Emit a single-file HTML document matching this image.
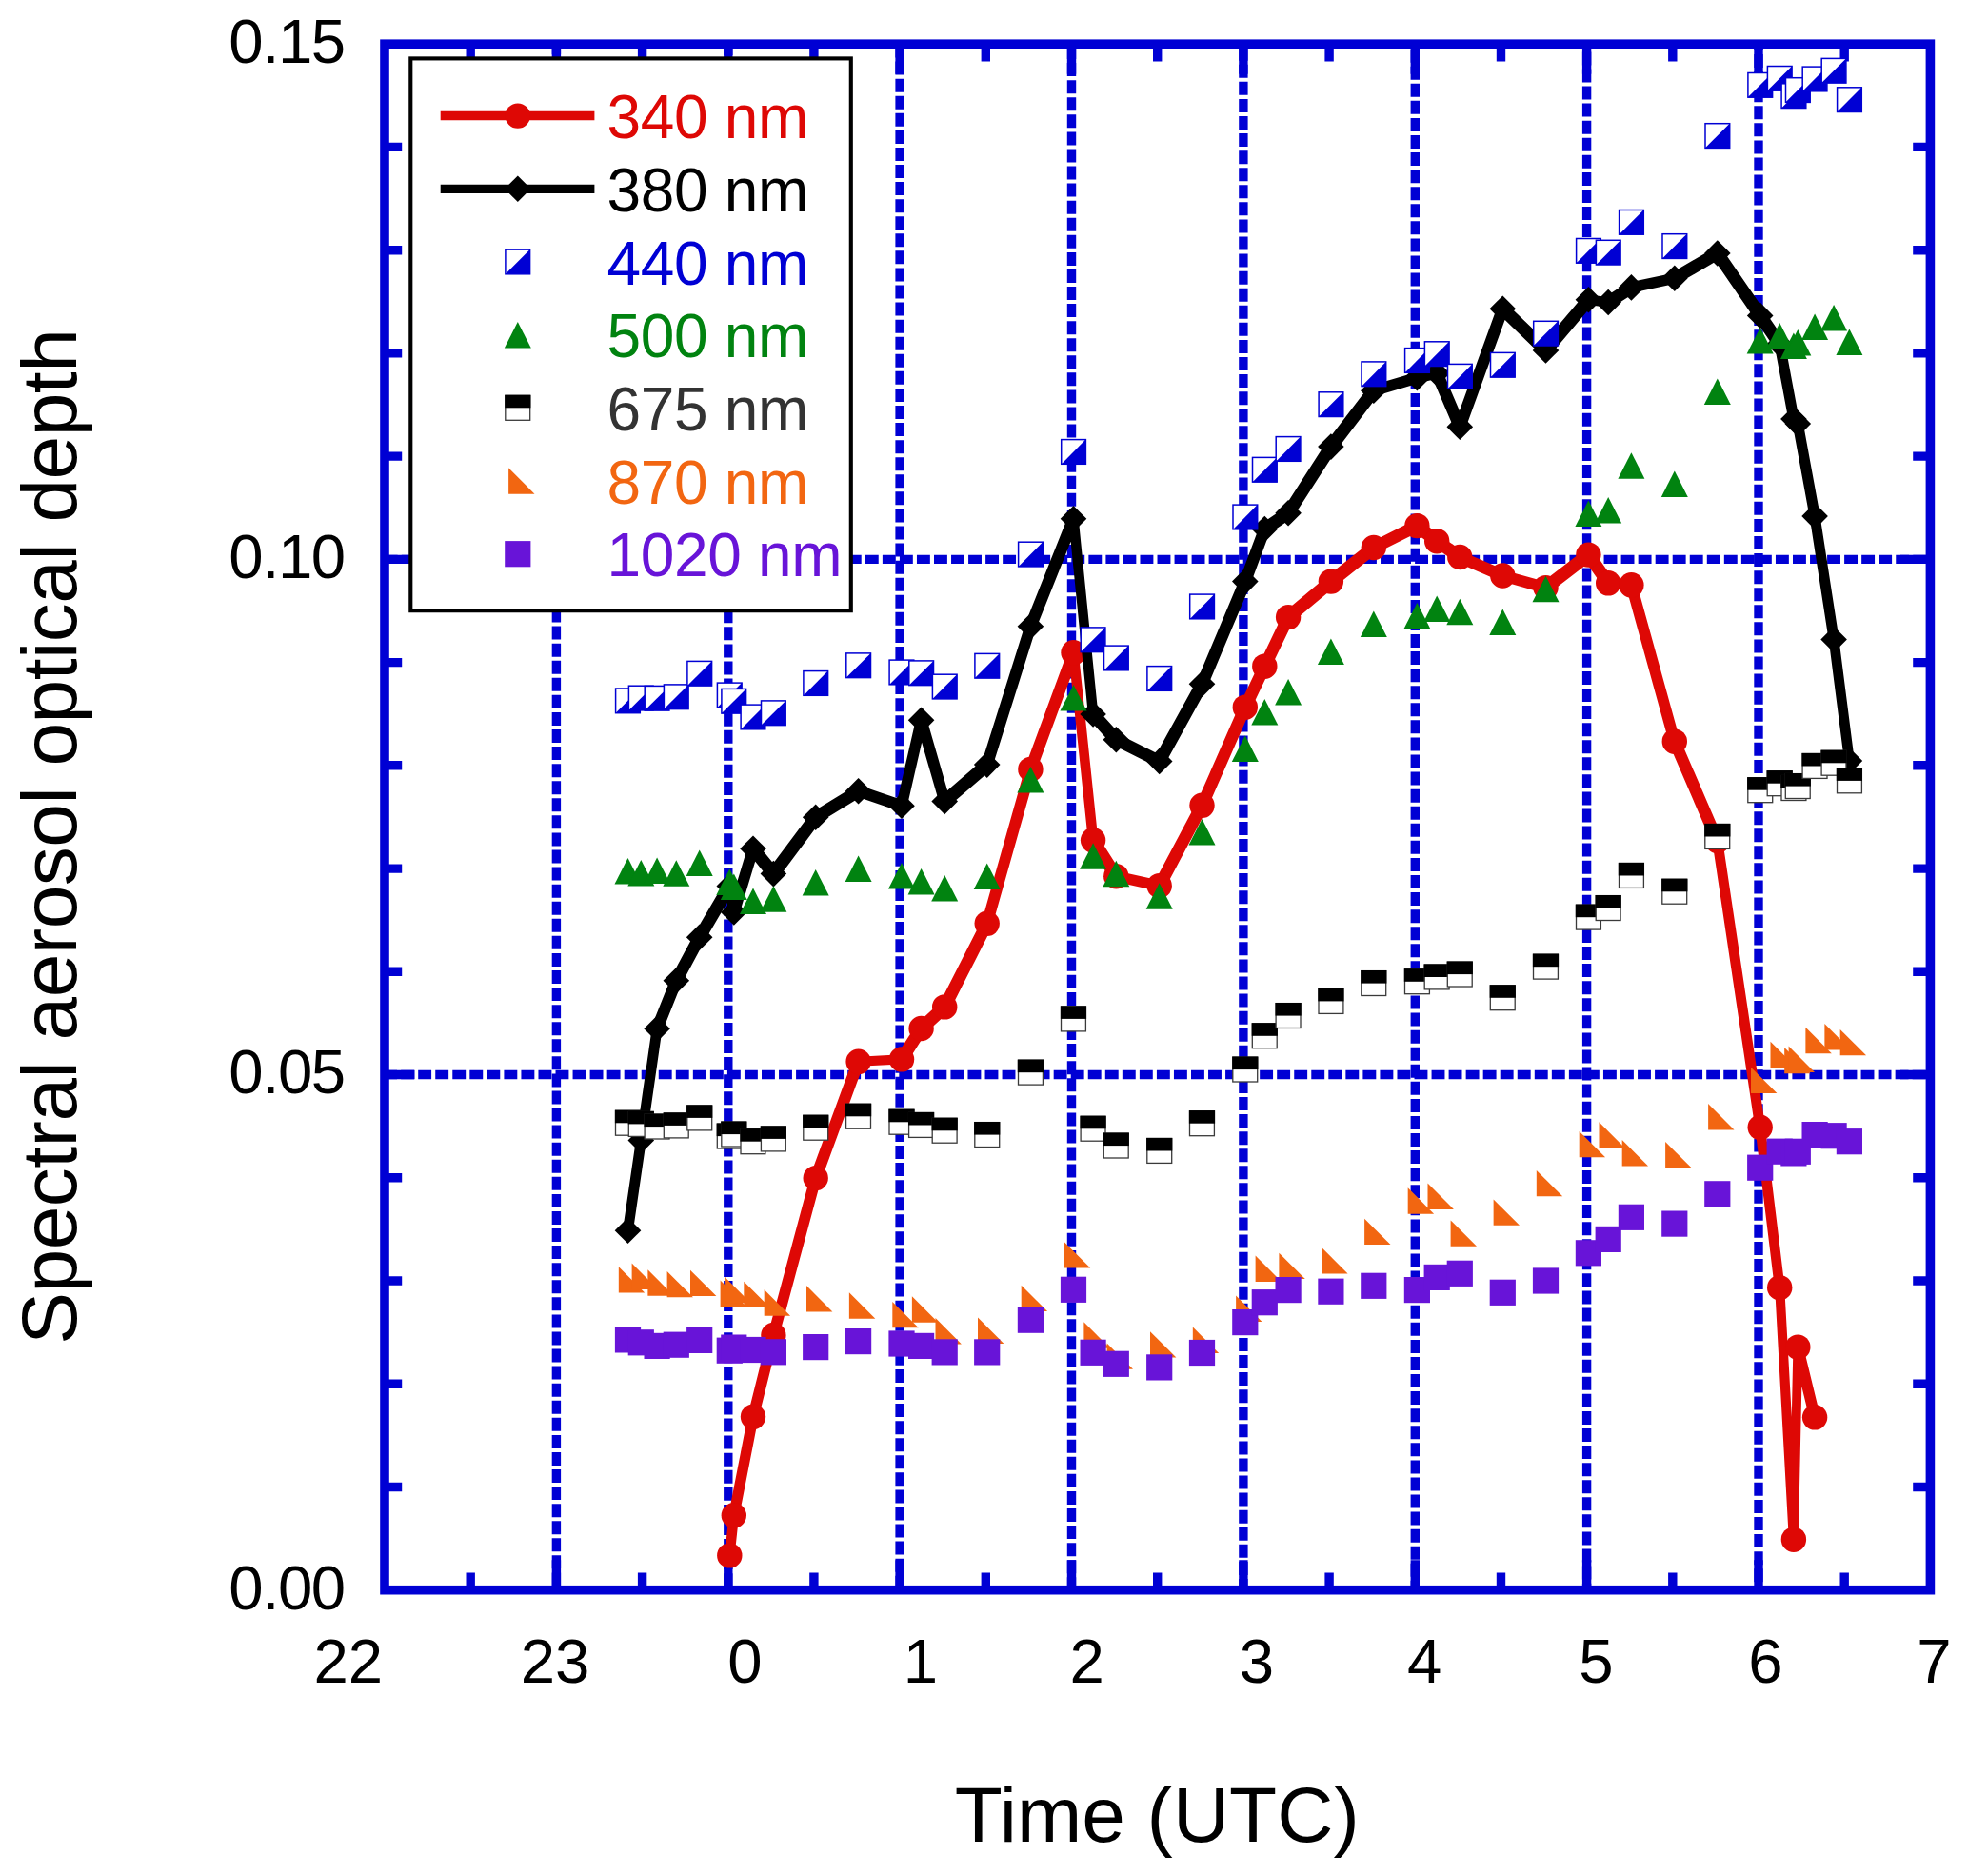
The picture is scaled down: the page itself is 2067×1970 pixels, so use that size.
<!DOCTYPE html><html><head><meta charset="utf-8"><title>Spectral aerosol optical depth</title><style>html,body{margin:0;padding:0;background:#fff;overflow:hidden;}svg{display:block;}text{font-family:"Liberation Sans",Arial,sans-serif;}</style></head><body><svg width="2067" height="1970" viewBox="0 0 2067 1970"><rect width="2067" height="1970" fill="#fff"/><line x1="584.4" y1="1669.7" x2="584.4" y2="46.2" stroke="#0000D4" stroke-width="9.4" stroke-dasharray="14.0 4.07" stroke-dashoffset="13.81"/><line x1="764.8" y1="1669.7" x2="764.8" y2="46.2" stroke="#0000D4" stroke-width="9.4" stroke-dasharray="14.0 4.07" stroke-dashoffset="14.53"/><line x1="945.1" y1="1669.7" x2="945.1" y2="46.2" stroke="#0000D4" stroke-width="9.4" stroke-dasharray="14.0 4.07" stroke-dashoffset="17.13"/><line x1="1125.5" y1="1669.7" x2="1125.5" y2="46.2" stroke="#0000D4" stroke-width="9.4" stroke-dasharray="14.0 4.07" stroke-dashoffset="0.57"/><line x1="1305.9" y1="1669.7" x2="1305.9" y2="46.2" stroke="#0000D4" stroke-width="9.4" stroke-dasharray="14.0 4.07" stroke-dashoffset="2.26"/><line x1="1486.3" y1="1669.7" x2="1486.3" y2="46.2" stroke="#0000D4" stroke-width="9.4" stroke-dasharray="14.0 4.07" stroke-dashoffset="4.17"/><line x1="1666.6" y1="1669.7" x2="1666.6" y2="46.2" stroke="#0000D4" stroke-width="9.4" stroke-dasharray="14.0 4.07" stroke-dashoffset="6.93"/><line x1="1847" y1="1669.7" x2="1847" y2="46.2" stroke="#0000D4" stroke-width="9.4" stroke-dasharray="14.0 4.07" stroke-dashoffset="9.58"/><line x1="404" y1="1128.5" x2="2027.4" y2="1128.5" stroke="#0000D4" stroke-width="9.4" stroke-dasharray="13.9 4.14" stroke-dashoffset="0.88"/><line x1="404" y1="587.4" x2="2027.4" y2="587.4" stroke="#0000D4" stroke-width="9.4" stroke-dasharray="13.9 4.14" stroke-dashoffset="0.28"/><path d="M494.2 1669.7V1651.5M494.2 46.2V64.4M584.4 1669.7V1638.2M584.4 46.2V77.7M674.6 1669.7V1651.5M674.6 46.2V64.4M764.8 1669.7V1638.2M764.8 46.2V77.7M854.9 1669.7V1651.5M854.9 46.2V64.4M945.1 1669.7V1638.2M945.1 46.2V77.7M1035.3 1669.7V1651.5M1035.3 46.2V64.4M1125.5 1669.7V1638.2M1125.5 46.2V77.7M1215.7 1669.7V1651.5M1215.7 46.2V64.4M1305.9 1669.7V1638.2M1305.9 46.2V77.7M1396.1 1669.7V1651.5M1396.1 46.2V64.4M1486.3 1669.7V1638.2M1486.3 46.2V77.7M1576.5 1669.7V1651.5M1576.5 46.2V64.4M1666.6 1669.7V1638.2M1666.6 46.2V77.7M1756.8 1669.7V1651.5M1756.8 46.2V64.4M1847 1669.7V1638.2M1847 46.2V77.7M1937.2 1669.7V1651.5M1937.2 46.2V64.4M404 1561.5H422.2M2027.4 1561.5H2009.2M404 1453.2H422.2M2027.4 1453.2H2009.2M404 1345H422.2M2027.4 1345H2009.2M404 1236.8H422.2M2027.4 1236.8H2009.2M404 1128.5H435.5M2027.4 1128.5H1995.9M404 1020.3H422.2M2027.4 1020.3H2009.2M404 912.1H422.2M2027.4 912.1H2009.2M404 803.8H422.2M2027.4 803.8H2009.2M404 695.6H422.2M2027.4 695.6H2009.2M404 587.4H435.5M2027.4 587.4H1995.9M404 479.1H422.2M2027.4 479.1H2009.2M404 370.9H422.2M2027.4 370.9H2009.2M404 262.7H422.2M2027.4 262.7H2009.2M404 154.4H422.2M2027.4 154.4H2009.2" stroke="#0000D4" stroke-width="9.4" fill="none"/><rect x="404" y="46.2" width="1623.4" height="1623.5" fill="none" stroke="#0000D4" stroke-width="9.6"/><path fill="#DE0805" d="M761.5 1628.6L766 1586.5L775.6 1586.5L775.6 1596.1L771.1 1638.2L761.5 1638.2ZM766 1586.5L786.2 1483L795.8 1483L795.8 1492.6L775.6 1596.1L766 1596.1ZM786.2 1483L807.6 1397.2L817.2 1397.2L817.2 1406.8L795.8 1492.6L786.2 1492.6ZM807.6 1397.2L851.9 1232.3L861.5 1232.3L861.5 1241.9L817.2 1406.8L807.6 1406.8ZM851.9 1232.3L896.8 1110L906.4 1110L906.4 1119.6L861.5 1241.9L851.9 1241.9ZM896.8 1110L942.2 1107.6L951.8 1107.6L951.8 1117.2L906.4 1119.6L896.8 1119.6ZM942.2 1107.6L962.8 1075.2L972.4 1075.2L972.4 1084.8L951.8 1117.2L942.2 1117.2ZM962.8 1075.2L987.4 1052.6L997 1052.6L997 1062.2L972.4 1084.8L962.8 1084.8ZM987.4 1052.6L1031.9 965L1041.5 965L1041.5 974.6L997 1062.2L987.4 1062.2ZM1031.9 965L1077.6 803.1L1087.2 803.1L1087.2 812.7L1041.5 974.6L1031.9 974.6ZM1077.6 803.1L1122.7 680.5L1132.3 680.5L1132.3 690.1L1087.2 812.7L1077.6 812.7ZM1122.7 680.5L1132.3 680.5L1152.9 877.5L1152.9 887.1L1143.3 887.1L1122.7 690.1ZM1143.3 877.5L1152.9 877.5L1177.1 915.4L1177.1 925L1167.5 925L1143.3 887.1ZM1167.5 915.4L1177.1 915.4L1222.5 925.4L1222.5 935L1212.9 935L1167.5 925ZM1212.9 925.4L1257.7 841L1267.3 841L1267.3 850.6L1222.5 935L1212.9 935ZM1257.7 841L1303 737.9L1312.6 737.9L1312.6 747.5L1267.3 850.6L1257.7 850.6ZM1303 737.9L1323.5 694.9L1333.1 694.9L1333.1 704.5L1312.6 747.5L1303 747.5ZM1323.5 694.9L1348.3 643.3L1357.9 643.3L1357.9 652.9L1333.1 704.5L1323.5 704.5ZM1348.3 643.3L1393.1 605.8L1402.7 605.8L1402.7 615.4L1357.9 652.9L1348.3 652.9ZM1393.1 605.8L1438 570.2L1447.6 570.2L1447.6 579.8L1402.7 615.4L1393.1 615.4ZM1438 570.2L1483.6 547.3L1493.2 547.3L1493.2 556.9L1447.6 579.8L1438 579.8ZM1483.6 547.3L1493.2 547.3L1514 563.4L1514 573L1504.4 573L1483.6 556.9ZM1504.4 563.4L1514 563.4L1538.1 580.2L1538.1 589.8L1528.5 589.8L1504.4 573ZM1528.5 580.2L1538.1 580.2L1583.1 599.7L1583.1 609.3L1573.5 609.3L1528.5 589.8ZM1573.5 599.7L1583.1 599.7L1628.3 612.3L1628.3 621.9L1618.7 621.9L1573.5 609.3ZM1618.7 612.3L1663.6 577.8L1673.2 577.8L1673.2 587.4L1628.3 621.9L1618.7 621.9ZM1663.6 577.8L1673.2 577.8L1694 607.5L1694 617.1L1684.4 617.1L1663.6 587.4ZM1684.4 607.5L1694 607.5L1718.2 609.5L1718.2 619.1L1708.6 619.1L1684.4 617.1ZM1708.6 609.5L1718.2 609.5L1763.6 773.9L1763.6 783.5L1754 783.5L1708.6 619.1ZM1754 773.9L1763.6 773.9L1808.6 878.2L1808.6 887.8L1799 887.8L1754 783.5ZM1799 878.2L1808.6 878.2L1853.5 1179L1853.5 1188.6L1843.9 1188.6L1799 887.8ZM1843.9 1179L1853.5 1179L1874 1347.4L1874 1357L1864.4 1357L1843.9 1188.6ZM1864.4 1347.4L1874 1347.4L1888.7 1611.9L1888.7 1621.5L1879.1 1621.5L1864.4 1357ZM1879.1 1611.9L1883.5 1409.9L1893.1 1409.9L1893.1 1419.5L1888.7 1621.5L1879.1 1621.5ZM1883.5 1409.9L1893.1 1409.9L1910.9 1483.5L1910.9 1493.1L1901.3 1493.1L1883.5 1419.5Z"/><g fill="#DE0805"><circle cx="766.3" cy="1633.4" r="13.2"/><circle cx="770.8" cy="1591.3" r="13.2"/><circle cx="791" cy="1487.8" r="13.2"/><circle cx="812.4" cy="1402" r="13.2"/><circle cx="856.7" cy="1237.1" r="13.2"/><circle cx="901.6" cy="1114.8" r="13.2"/><circle cx="947" cy="1112.4" r="13.2"/><circle cx="967.6" cy="1080" r="13.2"/><circle cx="992.2" cy="1057.4" r="13.2"/><circle cx="1036.7" cy="969.8" r="13.2"/><circle cx="1082.4" cy="807.9" r="13.2"/><circle cx="1127.5" cy="685.3" r="13.2"/><circle cx="1148.1" cy="882.3" r="13.2"/><circle cx="1172.3" cy="920.2" r="13.2"/><circle cx="1217.7" cy="930.2" r="13.2"/><circle cx="1262.5" cy="845.8" r="13.2"/><circle cx="1307.8" cy="742.7" r="13.2"/><circle cx="1328.3" cy="699.7" r="13.2"/><circle cx="1353.1" cy="648.1" r="13.2"/><circle cx="1397.9" cy="610.6" r="13.2"/><circle cx="1442.8" cy="575" r="13.2"/><circle cx="1488.4" cy="552.1" r="13.2"/><circle cx="1509.2" cy="568.2" r="13.2"/><circle cx="1533.3" cy="585" r="13.2"/><circle cx="1578.3" cy="604.5" r="13.2"/><circle cx="1623.5" cy="617.1" r="13.2"/><circle cx="1668.4" cy="582.6" r="13.2"/><circle cx="1689.2" cy="612.3" r="13.2"/><circle cx="1713.4" cy="614.3" r="13.2"/><circle cx="1758.8" cy="778.7" r="13.2"/><circle cx="1803.8" cy="883" r="13.2"/><circle cx="1848.7" cy="1183.8" r="13.2"/><circle cx="1869.2" cy="1352.2" r="13.2"/><circle cx="1883.9" cy="1616.7" r="13.2"/><circle cx="1888.3" cy="1414.7" r="13.2"/><circle cx="1906.1" cy="1488.3" r="13.2"/></g><path fill="#000" d="M654.7 1287.5L668.5 1192.7L678.1 1192.7L678.1 1202.3L664.3 1297.1L654.7 1297.1ZM668.5 1192.7L685.3 1075.4L694.9 1075.4L694.9 1085L678.1 1202.3L668.5 1202.3ZM685.3 1075.4L705.5 1025L715.1 1025L715.1 1034.6L694.9 1085L685.3 1085ZM705.5 1025L729.9 979.4L739.5 979.4L739.5 989L715.1 1034.6L705.5 1034.6ZM729.9 979.4L761.5 925.6L771.1 925.6L771.1 935.2L739.5 989L729.9 989ZM761.5 925.6L771.1 925.6L775.6 953.2L775.6 962.8L766 962.8L761.5 935.2ZM766 953.2L786.2 886.5L795.8 886.5L795.8 896.1L775.6 962.8L766 962.8ZM786.2 886.5L795.8 886.5L817.2 912.8L817.2 922.4L807.6 922.4L786.2 896.1ZM807.6 912.8L851.9 853.5L861.5 853.5L861.5 863.1L817.2 922.4L807.6 922.4ZM851.9 853.5L896.8 825.9L906.4 825.9L906.4 835.5L861.5 863.1L851.9 863.1ZM896.8 825.9L906.4 825.9L951.8 841.5L951.8 851.1L942.2 851.1L896.8 835.5ZM942.2 841.5L962.8 751.5L972.4 751.5L972.4 761.1L951.8 851.1L942.2 851.1ZM962.8 751.5L972.4 751.5L997 836.7L997 846.3L987.4 846.3L962.8 761.1ZM987.4 836.7L1031.9 798.3L1041.5 798.3L1041.5 807.9L997 846.3L987.4 846.3ZM1031.9 798.3L1077.6 652.9L1087.2 652.9L1087.2 662.5L1041.5 807.9L1031.9 807.9ZM1077.6 652.9L1122.7 539.9L1132.3 539.9L1132.3 549.5L1087.2 662.5L1077.6 662.5ZM1122.7 539.9L1132.3 539.9L1152.9 745.2L1152.9 754.8L1143.3 754.8L1122.7 549.5ZM1143.3 745.2L1152.9 745.2L1177.1 771.9L1177.1 781.5L1167.5 781.5L1143.3 754.8ZM1167.5 771.9L1177.1 771.9L1222.5 794.7L1222.5 804.3L1212.9 804.3L1167.5 781.5ZM1212.9 794.7L1257.7 713.5L1267.3 713.5L1267.3 723.1L1222.5 804.3L1212.9 804.3ZM1257.7 713.5L1303 605.8L1312.6 605.8L1312.6 615.4L1267.3 723.1L1257.7 723.1ZM1303 605.8L1323.5 550.7L1333.1 550.7L1333.1 560.3L1312.6 615.4L1303 615.4ZM1323.5 550.7L1348.3 533.9L1357.9 533.9L1357.9 543.5L1333.1 560.3L1323.5 560.3ZM1348.3 533.9L1393.1 464.3L1402.7 464.3L1402.7 473.9L1357.9 543.5L1348.3 543.5ZM1393.1 464.3L1438 405.5L1447.6 405.5L1447.6 415.1L1402.7 473.9L1393.1 473.9ZM1438 405.5L1483.6 391.9L1493.2 391.9L1493.2 401.5L1447.6 415.1L1438 415.1ZM1483.6 391.9L1504.4 387.1L1514 387.1L1514 396.7L1493.2 401.5L1483.6 401.5ZM1504.4 387.1L1514 387.1L1538.1 443.5L1538.1 453.1L1528.5 453.1L1504.4 396.7ZM1528.5 443.5L1573.5 319.5L1583.1 319.5L1583.1 329.1L1538.1 453.1L1528.5 453.1ZM1573.5 319.5L1583.1 319.5L1628.3 363.1L1628.3 372.7L1618.7 372.7L1573.5 329.1ZM1618.7 363.1L1663.6 309.9L1673.2 309.9L1673.2 319.5L1628.3 372.7L1618.7 372.7ZM1663.6 309.9L1673.2 309.9L1694 312.7L1694 322.3L1684.4 322.3L1663.6 319.5ZM1684.4 312.7L1708.6 297.1L1718.2 297.1L1718.2 306.7L1694 322.3L1684.4 322.3ZM1708.6 297.1L1754 287.5L1763.6 287.5L1763.6 297.1L1718.2 306.7L1708.6 306.7ZM1754 287.5L1799 261.2L1808.6 261.2L1808.6 270.8L1763.6 297.1L1754 297.1ZM1799 261.2L1808.6 261.2L1853.5 326.6L1853.5 336.2L1843.9 336.2L1799 270.8ZM1843.9 326.6L1853.5 326.6L1874 356.6L1874 366.2L1864.4 366.2L1843.9 336.2ZM1864.4 356.6L1874 356.6L1888.7 435.2L1888.7 444.8L1879.1 444.8L1864.4 366.2ZM1879.1 435.2L1888.7 435.2L1893.1 440.2L1893.1 449.8L1883.5 449.8L1879.1 444.8ZM1883.5 440.2L1893.1 440.2L1910.9 537.3L1910.9 546.9L1901.3 546.9L1883.5 449.8ZM1901.3 537.3L1910.9 537.3L1930.9 666.7L1930.9 676.3L1921.3 676.3L1901.3 546.9ZM1921.3 666.7L1930.9 666.7L1947.2 794.2L1947.2 803.8L1937.6 803.8L1921.3 676.3Z"/><g fill="#000"><path d="M659.5 1278.5L673.3 1292.3L659.5 1306.1L645.7 1292.3Z"/><path d="M673.3 1183.7L687.1 1197.5L673.3 1211.3L659.5 1197.5Z"/><path d="M690.1 1066.4L703.9 1080.2L690.1 1094L676.3 1080.2Z"/><path d="M710.3 1016L724.1 1029.8L710.3 1043.6L696.5 1029.8Z"/><path d="M734.7 970.4L748.5 984.2L734.7 998L720.9 984.2Z"/><path d="M766.3 916.6L780.1 930.4L766.3 944.2L752.5 930.4Z"/><path d="M770.8 944.2L784.6 958L770.8 971.8L757 958Z"/><path d="M791 877.5L804.8 891.3L791 905.1L777.2 891.3Z"/><path d="M812.4 903.8L826.2 917.6L812.4 931.4L798.6 917.6Z"/><path d="M856.7 844.5L870.5 858.3L856.7 872.1L842.9 858.3Z"/><path d="M901.6 816.9L915.4 830.7L901.6 844.5L887.8 830.7Z"/><path d="M947 832.5L960.8 846.3L947 860.1L933.2 846.3Z"/><path d="M967.6 742.5L981.4 756.3L967.6 770.1L953.8 756.3Z"/><path d="M992.2 827.7L1006 841.5L992.2 855.3L978.4 841.5Z"/><path d="M1036.7 789.3L1050.5 803.1L1036.7 816.9L1022.9 803.1Z"/><path d="M1082.4 643.9L1096.2 657.7L1082.4 671.5L1068.6 657.7Z"/><path d="M1127.5 530.9L1141.3 544.7L1127.5 558.5L1113.7 544.7Z"/><path d="M1148.1 736.2L1161.9 750L1148.1 763.8L1134.3 750Z"/><path d="M1172.3 762.9L1186.1 776.7L1172.3 790.5L1158.5 776.7Z"/><path d="M1217.7 785.7L1231.5 799.5L1217.7 813.3L1203.9 799.5Z"/><path d="M1262.5 704.5L1276.3 718.3L1262.5 732.1L1248.7 718.3Z"/><path d="M1307.8 596.8L1321.6 610.6L1307.8 624.4L1294 610.6Z"/><path d="M1328.3 541.7L1342.1 555.5L1328.3 569.3L1314.5 555.5Z"/><path d="M1353.1 524.9L1366.9 538.7L1353.1 552.5L1339.3 538.7Z"/><path d="M1397.9 455.3L1411.7 469.1L1397.9 482.9L1384.1 469.1Z"/><path d="M1442.8 396.5L1456.6 410.3L1442.8 424.1L1429 410.3Z"/><path d="M1488.4 382.9L1502.2 396.7L1488.4 410.5L1474.6 396.7Z"/><path d="M1509.2 378.1L1523 391.9L1509.2 405.7L1495.4 391.9Z"/><path d="M1533.3 434.5L1547.1 448.3L1533.3 462.1L1519.5 448.3Z"/><path d="M1578.3 310.5L1592.1 324.3L1578.3 338.1L1564.5 324.3Z"/><path d="M1623.5 354.1L1637.3 367.9L1623.5 381.7L1609.7 367.9Z"/><path d="M1668.4 300.9L1682.2 314.7L1668.4 328.5L1654.6 314.7Z"/><path d="M1689.2 303.7L1703 317.5L1689.2 331.3L1675.4 317.5Z"/><path d="M1713.4 288.1L1727.2 301.9L1713.4 315.7L1699.6 301.9Z"/><path d="M1758.8 278.5L1772.6 292.3L1758.8 306.1L1745 292.3Z"/><path d="M1803.8 252.2L1817.6 266L1803.8 279.8L1790 266Z"/><path d="M1848.7 317.6L1862.5 331.4L1848.7 345.2L1834.9 331.4Z"/><path d="M1869.2 347.6L1883 361.4L1869.2 375.2L1855.4 361.4Z"/><path d="M1883.9 426.2L1897.7 440L1883.9 453.8L1870.1 440Z"/><path d="M1888.3 431.2L1902.1 445L1888.3 458.8L1874.5 445Z"/><path d="M1906.1 528.3L1919.9 542.1L1906.1 555.9L1892.3 542.1Z"/><path d="M1926.1 657.7L1939.9 671.5L1926.1 685.3L1912.3 671.5Z"/><path d="M1942.4 785.2L1956.2 799L1942.4 812.8L1928.6 799Z"/></g><g><rect x="646.6" y="723" width="25.7" height="25.7" fill="#fff" stroke="#0000D4" stroke-width="1.5"/><path d="M646.6 748.8L672.4 723L672.4 748.8Z" fill="#0000D4"/><rect x="660.4" y="720.2" width="25.7" height="25.7" fill="#fff" stroke="#0000D4" stroke-width="1.5"/><path d="M660.4 746L686.1 720.2L686.1 746Z" fill="#0000D4"/><rect x="677.2" y="720.4" width="25.7" height="25.7" fill="#fff" stroke="#0000D4" stroke-width="1.5"/><path d="M677.2 746.1L703 720.4L703 746.1Z" fill="#0000D4"/><rect x="697.4" y="718.9" width="25.7" height="25.7" fill="#fff" stroke="#0000D4" stroke-width="1.5"/><path d="M697.4 744.6L723.1 718.9L723.1 744.6Z" fill="#0000D4"/><rect x="721.9" y="694.4" width="25.7" height="25.7" fill="#fff" stroke="#0000D4" stroke-width="1.5"/><path d="M721.9 720.1L747.6 694.4L747.6 720.1Z" fill="#0000D4"/><rect x="753.4" y="717.1" width="25.7" height="25.7" fill="#fff" stroke="#0000D4" stroke-width="1.5"/><path d="M753.4 742.9L779.1 717.1L779.1 742.9Z" fill="#0000D4"/><rect x="757.9" y="723.4" width="25.7" height="25.7" fill="#fff" stroke="#0000D4" stroke-width="1.5"/><path d="M757.9 749.1L783.6 723.4L783.6 749.1Z" fill="#0000D4"/><rect x="778.1" y="740.1" width="25.7" height="25.7" fill="#fff" stroke="#0000D4" stroke-width="1.5"/><path d="M778.1 765.9L803.9 740.1L803.9 765.9Z" fill="#0000D4"/><rect x="799.5" y="735.9" width="25.7" height="25.7" fill="#fff" stroke="#0000D4" stroke-width="1.5"/><path d="M799.5 761.6L825.2 735.9L825.2 761.6Z" fill="#0000D4"/><rect x="843.9" y="704.6" width="25.7" height="25.7" fill="#fff" stroke="#0000D4" stroke-width="1.5"/><path d="M843.9 730.4L869.6 704.6L869.6 730.4Z" fill="#0000D4"/><rect x="888.8" y="685.9" width="25.7" height="25.7" fill="#fff" stroke="#0000D4" stroke-width="1.5"/><path d="M888.8 711.6L914.5 685.9L914.5 711.6Z" fill="#0000D4"/><rect x="934.1" y="693.1" width="25.7" height="25.7" fill="#fff" stroke="#0000D4" stroke-width="1.5"/><path d="M934.1 718.9L959.9 693.1L959.9 718.9Z" fill="#0000D4"/><rect x="954.8" y="693.9" width="25.7" height="25.7" fill="#fff" stroke="#0000D4" stroke-width="1.5"/><path d="M954.8 719.6L980.5 693.9L980.5 719.6Z" fill="#0000D4"/><rect x="979.4" y="708.2" width="25.7" height="25.7" fill="#fff" stroke="#0000D4" stroke-width="1.5"/><path d="M979.4 734L1005.1 708.2L1005.1 734Z" fill="#0000D4"/><rect x="1023.9" y="686.4" width="25.7" height="25.7" fill="#fff" stroke="#0000D4" stroke-width="1.5"/><path d="M1023.9 712.1L1049.5 686.4L1049.5 712.1Z" fill="#0000D4"/><rect x="1069.6" y="569.2" width="25.7" height="25.7" fill="#fff" stroke="#0000D4" stroke-width="1.5"/><path d="M1069.6 595L1095.2 569.2L1095.2 595Z" fill="#0000D4"/><rect x="1114.7" y="461.6" width="25.7" height="25.7" fill="#fff" stroke="#0000D4" stroke-width="1.5"/><path d="M1114.7 487.4L1140.3 461.6L1140.3 487.4Z" fill="#0000D4"/><rect x="1135.2" y="658.9" width="25.7" height="25.7" fill="#fff" stroke="#0000D4" stroke-width="1.5"/><path d="M1135.2 684.6L1160.9 658.9L1160.9 684.6Z" fill="#0000D4"/><rect x="1159.5" y="678.1" width="25.7" height="25.7" fill="#fff" stroke="#0000D4" stroke-width="1.5"/><path d="M1159.5 703.9L1185.1 678.1L1185.1 703.9Z" fill="#0000D4"/><rect x="1204.9" y="699.6" width="25.7" height="25.7" fill="#fff" stroke="#0000D4" stroke-width="1.5"/><path d="M1204.9 725.4L1230.5 699.6L1230.5 725.4Z" fill="#0000D4"/><rect x="1249.7" y="624.1" width="25.7" height="25.7" fill="#fff" stroke="#0000D4" stroke-width="1.5"/><path d="M1249.7 649.9L1275.3 624.1L1275.3 649.9Z" fill="#0000D4"/><rect x="1295" y="530.1" width="25.7" height="25.7" fill="#fff" stroke="#0000D4" stroke-width="1.5"/><path d="M1295 555.9L1320.6 530.1L1320.6 555.9Z" fill="#0000D4"/><rect x="1315.5" y="480.4" width="25.7" height="25.7" fill="#fff" stroke="#0000D4" stroke-width="1.5"/><path d="M1315.5 506.2L1341.1 480.4L1341.1 506.2Z" fill="#0000D4"/><rect x="1340.2" y="458.6" width="25.7" height="25.7" fill="#fff" stroke="#0000D4" stroke-width="1.5"/><path d="M1340.2 484.4L1365.9 458.6L1365.9 484.4Z" fill="#0000D4"/><rect x="1385.1" y="411.8" width="25.7" height="25.7" fill="#fff" stroke="#0000D4" stroke-width="1.5"/><path d="M1385.1 437.6L1410.8 411.8L1410.8 437.6Z" fill="#0000D4"/><rect x="1430" y="379.9" width="25.7" height="25.7" fill="#fff" stroke="#0000D4" stroke-width="1.5"/><path d="M1430 405.7L1455.6 379.9L1455.6 405.7Z" fill="#0000D4"/><rect x="1475.6" y="365.6" width="25.7" height="25.7" fill="#fff" stroke="#0000D4" stroke-width="1.5"/><path d="M1475.6 391.4L1501.2 365.6L1501.2 391.4Z" fill="#0000D4"/><rect x="1496.4" y="358.8" width="25.7" height="25.7" fill="#fff" stroke="#0000D4" stroke-width="1.5"/><path d="M1496.4 384.6L1522 358.8L1522 384.6Z" fill="#0000D4"/><rect x="1520.5" y="382.4" width="25.7" height="25.7" fill="#fff" stroke="#0000D4" stroke-width="1.5"/><path d="M1520.5 408.2L1546.1 382.4L1546.1 408.2Z" fill="#0000D4"/><rect x="1565.5" y="370.4" width="25.7" height="25.7" fill="#fff" stroke="#0000D4" stroke-width="1.5"/><path d="M1565.5 396.2L1591.1 370.4L1591.1 396.2Z" fill="#0000D4"/><rect x="1610.7" y="337.3" width="25.7" height="25.7" fill="#fff" stroke="#0000D4" stroke-width="1.5"/><path d="M1610.7 363.1L1636.3 337.3L1636.3 363.1Z" fill="#0000D4"/><rect x="1655.6" y="250.5" width="25.7" height="25.7" fill="#fff" stroke="#0000D4" stroke-width="1.5"/><path d="M1655.6 276.2L1681.2 250.5L1681.2 276.2Z" fill="#0000D4"/><rect x="1676.4" y="252.3" width="25.7" height="25.7" fill="#fff" stroke="#0000D4" stroke-width="1.5"/><path d="M1676.4 278.1L1702 252.3L1702 278.1Z" fill="#0000D4"/><rect x="1700.6" y="220.5" width="25.7" height="25.7" fill="#fff" stroke="#0000D4" stroke-width="1.5"/><path d="M1700.6 246.2L1726.2 220.5L1726.2 246.2Z" fill="#0000D4"/><rect x="1746" y="245.7" width="25.7" height="25.7" fill="#fff" stroke="#0000D4" stroke-width="1.5"/><path d="M1746 271.4L1771.6 245.7L1771.6 271.4Z" fill="#0000D4"/><rect x="1791" y="129.7" width="25.7" height="25.7" fill="#fff" stroke="#0000D4" stroke-width="1.5"/><path d="M1791 155.3L1816.6 129.7L1816.6 155.3Z" fill="#0000D4"/><rect x="1835.9" y="76.5" width="25.7" height="25.7" fill="#fff" stroke="#0000D4" stroke-width="1.5"/><path d="M1835.9 102.1L1861.5 76.5L1861.5 102.1Z" fill="#0000D4"/><rect x="1856.4" y="69.5" width="25.7" height="25.7" fill="#fff" stroke="#0000D4" stroke-width="1.5"/><path d="M1856.4 95.1L1882 69.5L1882 95.1Z" fill="#0000D4"/><rect x="1871.1" y="87.8" width="25.7" height="25.7" fill="#fff" stroke="#0000D4" stroke-width="1.5"/><path d="M1871.1 113.4L1896.8 87.8L1896.8 113.4Z" fill="#0000D4"/><rect x="1875.5" y="81.7" width="25.7" height="25.7" fill="#fff" stroke="#0000D4" stroke-width="1.5"/><path d="M1875.5 107.3L1901.1 81.7L1901.1 107.3Z" fill="#0000D4"/><rect x="1893.2" y="70.1" width="25.7" height="25.7" fill="#fff" stroke="#0000D4" stroke-width="1.5"/><path d="M1893.2 95.8L1918.9 70.1L1918.9 95.8Z" fill="#0000D4"/><rect x="1913.2" y="61.4" width="25.7" height="25.7" fill="#fff" stroke="#0000D4" stroke-width="1.5"/><path d="M1913.2 87.1L1938.9 61.4L1938.9 87.1Z" fill="#0000D4"/><rect x="1929.6" y="91.8" width="25.7" height="25.7" fill="#fff" stroke="#0000D4" stroke-width="1.5"/><path d="M1929.6 117.4L1955.2 91.8L1955.2 117.4Z" fill="#0000D4"/></g><g fill="#018310"><path d="M659.5 900.9L673.5 928.4L645.5 928.4Z"/><path d="M673.3 902.9L687.3 930.4L659.3 930.4Z"/><path d="M690.1 900.5L704.1 928L676.1 928Z"/><path d="M710.3 903.2L724.3 930.8L696.3 930.8Z"/><path d="M734.7 892.5L748.7 920L720.7 920Z"/><path d="M766.3 912.5L780.3 940L752.3 940Z"/><path d="M770.8 917.5L784.8 945L756.8 945Z"/><path d="M791 932.6L805 960.1L777 960.1Z"/><path d="M812.4 930.2L826.4 957.8L798.4 957.8Z"/><path d="M856.7 912.9L870.7 940.4L842.7 940.4Z"/><path d="M901.6 898.5L915.6 926L887.6 926Z"/><path d="M947 906L961 933.5L933 933.5Z"/><path d="M967.6 912L981.6 939.5L953.6 939.5Z"/><path d="M992.2 919.1L1006.2 946.6L978.2 946.6Z"/><path d="M1036.7 906.5L1050.7 934L1022.7 934Z"/><path d="M1082.4 805L1096.4 832.5L1068.4 832.5Z"/><path d="M1127.5 719L1141.5 746.5L1113.5 746.5Z"/><path d="M1148.1 885.2L1162.1 912.8L1134.1 912.8Z"/><path d="M1172.3 903.8L1186.3 931.2L1158.3 931.2Z"/><path d="M1217.7 927.2L1231.7 954.8L1203.7 954.8Z"/><path d="M1262.5 859.9L1276.5 887.4L1248.5 887.4Z"/><path d="M1307.8 772.5L1321.8 800L1293.8 800Z"/><path d="M1328.3 734.1L1342.3 761.6L1314.3 761.6Z"/><path d="M1353.1 712.9L1367.1 740.4L1339.1 740.4Z"/><path d="M1397.9 670.4L1411.9 697.9L1383.9 697.9Z"/><path d="M1442.8 641.6L1456.8 669.1L1428.8 669.1Z"/><path d="M1488.4 633L1502.4 660.5L1474.4 660.5Z"/><path d="M1509.2 625.5L1523.2 653L1495.2 653Z"/><path d="M1533.3 628.8L1547.3 656.2L1519.3 656.2Z"/><path d="M1578.3 639.5L1592.3 667L1564.3 667Z"/><path d="M1623.5 604.8L1637.5 632.2L1609.5 632.2Z"/><path d="M1668.4 525.6L1682.4 553.1L1654.4 553.1Z"/><path d="M1689.2 522L1703.2 549.5L1675.2 549.5Z"/><path d="M1713.4 475.2L1727.4 502.8L1699.4 502.8Z"/><path d="M1758.8 494.4L1772.8 522L1744.8 522Z"/><path d="M1803.8 397.4L1817.8 424.9L1789.8 424.9Z"/><path d="M1848.7 343.9L1862.7 371.4L1834.7 371.4Z"/><path d="M1869.2 338.9L1883.2 366.4L1855.2 366.4Z"/><path d="M1883.9 349.4L1897.9 376.9L1869.9 376.9Z"/><path d="M1888.3 345.9L1902.3 373.4L1874.3 373.4Z"/><path d="M1906.1 329.6L1920.1 357.1L1892.1 357.1Z"/><path d="M1926.1 319.9L1940.1 347.4L1912.1 347.4Z"/><path d="M1942.4 345.6L1956.4 373.1L1928.4 373.1Z"/></g><g><rect x="646.5" y="1166.3" width="25.9" height="25.9" fill="#fff" stroke="#3a3a3a" stroke-width="1.3"/><rect x="645.9" y="1165.7" width="27.2" height="13.6" fill="#000"/><rect x="660.3" y="1167.5" width="25.9" height="25.9" fill="#fff" stroke="#3a3a3a" stroke-width="1.3"/><rect x="659.7" y="1166.8" width="27.2" height="13.6" fill="#000"/><rect x="677.1" y="1170.1" width="25.9" height="25.9" fill="#fff" stroke="#3a3a3a" stroke-width="1.3"/><rect x="676.5" y="1169.5" width="27.2" height="13.6" fill="#000"/><rect x="697.3" y="1169" width="25.9" height="25.9" fill="#fff" stroke="#3a3a3a" stroke-width="1.3"/><rect x="696.7" y="1168.3" width="27.2" height="13.6" fill="#000"/><rect x="721.8" y="1161" width="25.9" height="25.9" fill="#fff" stroke="#3a3a3a" stroke-width="1.3"/><rect x="721.1" y="1160.3" width="27.2" height="13.6" fill="#000"/><rect x="753.3" y="1180.1" width="25.9" height="25.9" fill="#fff" stroke="#3a3a3a" stroke-width="1.3"/><rect x="752.7" y="1179.5" width="27.2" height="13.6" fill="#000"/><rect x="757.8" y="1178.1" width="25.9" height="25.9" fill="#fff" stroke="#3a3a3a" stroke-width="1.3"/><rect x="757.2" y="1177.5" width="27.2" height="13.6" fill="#000"/><rect x="778" y="1185.8" width="25.9" height="25.9" fill="#fff" stroke="#3a3a3a" stroke-width="1.3"/><rect x="777.4" y="1185.1" width="27.2" height="13.6" fill="#000"/><rect x="799.4" y="1183" width="25.9" height="25.9" fill="#fff" stroke="#3a3a3a" stroke-width="1.3"/><rect x="798.8" y="1182.3" width="27.2" height="13.6" fill="#000"/><rect x="843.8" y="1171.3" width="25.9" height="25.9" fill="#fff" stroke="#3a3a3a" stroke-width="1.3"/><rect x="843.1" y="1170.7" width="27.2" height="13.6" fill="#000"/><rect x="888.6" y="1159.3" width="25.9" height="25.9" fill="#fff" stroke="#3a3a3a" stroke-width="1.3"/><rect x="888" y="1158.7" width="27.2" height="13.6" fill="#000"/><rect x="934" y="1165.3" width="25.9" height="25.9" fill="#fff" stroke="#3a3a3a" stroke-width="1.3"/><rect x="933.4" y="1164.7" width="27.2" height="13.6" fill="#000"/><rect x="954.6" y="1168.5" width="25.9" height="25.9" fill="#fff" stroke="#3a3a3a" stroke-width="1.3"/><rect x="954" y="1167.9" width="27.2" height="13.6" fill="#000"/><rect x="979.2" y="1174.3" width="25.9" height="25.9" fill="#fff" stroke="#3a3a3a" stroke-width="1.3"/><rect x="978.6" y="1173.7" width="27.2" height="13.6" fill="#000"/><rect x="1023.8" y="1178.6" width="25.9" height="25.9" fill="#fff" stroke="#3a3a3a" stroke-width="1.3"/><rect x="1023.1" y="1178" width="27.2" height="13.6" fill="#000"/><rect x="1069.5" y="1113.2" width="25.9" height="25.9" fill="#fff" stroke="#3a3a3a" stroke-width="1.3"/><rect x="1068.8" y="1112.6" width="27.2" height="13.6" fill="#000"/><rect x="1114.5" y="1057" width="25.9" height="25.9" fill="#fff" stroke="#3a3a3a" stroke-width="1.3"/><rect x="1113.9" y="1056.3" width="27.2" height="13.6" fill="#000"/><rect x="1135.1" y="1172.3" width="25.9" height="25.9" fill="#fff" stroke="#3a3a3a" stroke-width="1.3"/><rect x="1134.5" y="1171.7" width="27.2" height="13.6" fill="#000"/><rect x="1159.3" y="1190.1" width="25.9" height="25.9" fill="#fff" stroke="#3a3a3a" stroke-width="1.3"/><rect x="1158.7" y="1189.5" width="27.2" height="13.6" fill="#000"/><rect x="1204.8" y="1195.5" width="25.9" height="25.9" fill="#fff" stroke="#3a3a3a" stroke-width="1.3"/><rect x="1204.1" y="1194.9" width="27.2" height="13.6" fill="#000"/><rect x="1249.5" y="1166.8" width="25.9" height="25.9" fill="#fff" stroke="#3a3a3a" stroke-width="1.3"/><rect x="1248.9" y="1166.1" width="27.2" height="13.6" fill="#000"/><rect x="1294.8" y="1110.1" width="25.9" height="25.9" fill="#fff" stroke="#3a3a3a" stroke-width="1.3"/><rect x="1294.2" y="1109.5" width="27.2" height="13.6" fill="#000"/><rect x="1315.3" y="1074.8" width="25.9" height="25.9" fill="#fff" stroke="#3a3a3a" stroke-width="1.3"/><rect x="1314.7" y="1074.2" width="27.2" height="13.6" fill="#000"/><rect x="1340.1" y="1053.6" width="25.9" height="25.9" fill="#fff" stroke="#3a3a3a" stroke-width="1.3"/><rect x="1339.5" y="1053" width="27.2" height="13.6" fill="#000"/><rect x="1385" y="1038.5" width="25.9" height="25.9" fill="#fff" stroke="#3a3a3a" stroke-width="1.3"/><rect x="1384.3" y="1037.8" width="27.2" height="13.6" fill="#000"/><rect x="1429.8" y="1019.6" width="25.9" height="25.9" fill="#fff" stroke="#3a3a3a" stroke-width="1.3"/><rect x="1429.2" y="1019" width="27.2" height="13.6" fill="#000"/><rect x="1475.5" y="1017.8" width="25.9" height="25.9" fill="#fff" stroke="#3a3a3a" stroke-width="1.3"/><rect x="1474.8" y="1017.2" width="27.2" height="13.6" fill="#000"/><rect x="1496.2" y="1013" width="25.9" height="25.9" fill="#fff" stroke="#3a3a3a" stroke-width="1.3"/><rect x="1495.6" y="1012.4" width="27.2" height="13.6" fill="#000"/><rect x="1520.3" y="1010.1" width="25.9" height="25.9" fill="#fff" stroke="#3a3a3a" stroke-width="1.3"/><rect x="1519.7" y="1009.5" width="27.2" height="13.6" fill="#000"/><rect x="1565.3" y="1034.8" width="25.9" height="25.9" fill="#fff" stroke="#3a3a3a" stroke-width="1.3"/><rect x="1564.7" y="1034.2" width="27.2" height="13.6" fill="#000"/><rect x="1610.5" y="1002.2" width="25.9" height="25.9" fill="#fff" stroke="#3a3a3a" stroke-width="1.3"/><rect x="1609.9" y="1001.6" width="27.2" height="13.6" fill="#000"/><rect x="1655.5" y="950.2" width="25.9" height="25.9" fill="#fff" stroke="#3a3a3a" stroke-width="1.3"/><rect x="1654.8" y="949.6" width="27.2" height="13.6" fill="#000"/><rect x="1676.2" y="940.6" width="25.9" height="25.9" fill="#fff" stroke="#3a3a3a" stroke-width="1.3"/><rect x="1675.6" y="940" width="27.2" height="13.6" fill="#000"/><rect x="1700.5" y="906.5" width="25.9" height="25.9" fill="#fff" stroke="#3a3a3a" stroke-width="1.3"/><rect x="1699.8" y="905.9" width="27.2" height="13.6" fill="#000"/><rect x="1745.8" y="923.3" width="25.9" height="25.9" fill="#fff" stroke="#3a3a3a" stroke-width="1.3"/><rect x="1745.2" y="922.7" width="27.2" height="13.6" fill="#000"/><rect x="1790.8" y="865.5" width="25.9" height="25.9" fill="#fff" stroke="#3a3a3a" stroke-width="1.3"/><rect x="1790.2" y="864.9" width="27.2" height="13.6" fill="#000"/><rect x="1835.8" y="816.8" width="25.9" height="25.9" fill="#fff" stroke="#3a3a3a" stroke-width="1.3"/><rect x="1835.1" y="816.1" width="27.2" height="13.6" fill="#000"/><rect x="1856.2" y="809.8" width="25.9" height="25.9" fill="#fff" stroke="#3a3a3a" stroke-width="1.3"/><rect x="1855.6" y="809.1" width="27.2" height="13.6" fill="#000"/><rect x="1871" y="814.6" width="25.9" height="25.9" fill="#fff" stroke="#3a3a3a" stroke-width="1.3"/><rect x="1870.3" y="814" width="27.2" height="13.6" fill="#000"/><rect x="1875.3" y="812.6" width="25.9" height="25.9" fill="#fff" stroke="#3a3a3a" stroke-width="1.3"/><rect x="1874.7" y="812" width="27.2" height="13.6" fill="#000"/><rect x="1893.1" y="791.5" width="25.9" height="25.9" fill="#fff" stroke="#3a3a3a" stroke-width="1.3"/><rect x="1892.5" y="790.9" width="27.2" height="13.6" fill="#000"/><rect x="1913.1" y="788.3" width="25.9" height="25.9" fill="#fff" stroke="#3a3a3a" stroke-width="1.3"/><rect x="1912.5" y="787.7" width="27.2" height="13.6" fill="#000"/><rect x="1929.5" y="806.9" width="25.9" height="25.9" fill="#fff" stroke="#3a3a3a" stroke-width="1.3"/><rect x="1928.8" y="806.3" width="27.2" height="13.6" fill="#000"/></g><g fill="#F26611"><path d="M649.8 1330.2L677.2 1357.6L649.8 1357.6Z"/><path d="M663.6 1326.6L691 1354L663.6 1354Z"/><path d="M680.4 1333.3L707.8 1360.7L680.4 1360.7Z"/><path d="M700.6 1334.9L728 1362.3L700.6 1362.3Z"/><path d="M725 1333.7L752.4 1361.1L725 1361.1Z"/><path d="M756.6 1344.5L784 1371.9L756.6 1371.9Z"/><path d="M761.1 1340.9L788.5 1368.3L761.1 1368.3Z"/><path d="M781.3 1345.7L808.7 1373.1L781.3 1373.1Z"/><path d="M802.7 1354.3L830.1 1381.7L802.7 1381.7Z"/><path d="M847 1350.1L874.4 1377.5L847 1377.5Z"/><path d="M891.9 1357.3L919.3 1384.7L891.9 1384.7Z"/><path d="M937.3 1366.9L964.7 1394.3L937.3 1394.3Z"/><path d="M957.9 1361.3L985.3 1388.7L957.9 1388.7Z"/><path d="M982.5 1384.1L1009.9 1411.5L982.5 1411.5Z"/><path d="M1027 1383.5L1054.4 1410.9L1027 1410.9Z"/><path d="M1072.7 1349.7L1100.1 1377.1L1072.7 1377.1Z"/><path d="M1117.8 1304.2L1145.2 1331.6L1117.8 1331.6Z"/><path d="M1138.4 1388.3L1165.8 1415.7L1138.4 1415.7Z"/><path d="M1162.6 1410.4L1190 1437.8L1162.6 1437.8Z"/><path d="M1208 1398.2L1235.4 1425.6L1208 1425.6Z"/><path d="M1252.8 1393.6L1280.2 1421L1252.8 1421Z"/><path d="M1298.1 1360.5L1325.5 1387.9L1298.1 1387.9Z"/><path d="M1318.6 1318.5L1346 1345.9L1318.6 1345.9Z"/><path d="M1343.4 1315.7L1370.8 1343.1L1343.4 1343.1Z"/><path d="M1388.2 1310.1L1415.6 1337.5L1388.2 1337.5Z"/><path d="M1433.1 1279.7L1460.5 1307.1L1433.1 1307.1Z"/><path d="M1478.7 1247.3L1506.1 1274.7L1478.7 1274.7Z"/><path d="M1499.5 1242.6L1526.9 1270L1499.5 1270Z"/><path d="M1523.6 1281.4L1551 1308.8L1523.6 1308.8Z"/><path d="M1568.6 1259.4L1596 1286.8L1568.6 1286.8Z"/><path d="M1613.8 1228.9L1641.2 1256.3L1613.8 1256.3Z"/><path d="M1658.7 1187.9L1686.1 1215.3L1658.7 1215.3Z"/><path d="M1679.5 1178.3L1706.9 1205.7L1679.5 1205.7Z"/><path d="M1703.7 1197L1731.1 1224.4L1703.7 1224.4Z"/><path d="M1749.1 1198.9L1776.5 1226.3L1749.1 1226.3Z"/><path d="M1794.1 1159.1L1821.5 1186.5L1794.1 1186.5Z"/><path d="M1839 1120.7L1866.4 1148.1L1839 1148.1Z"/><path d="M1859.5 1093.7L1886.9 1121.1L1859.5 1121.1Z"/><path d="M1874.2 1099.9L1901.6 1127.3L1874.2 1127.3Z"/><path d="M1878.6 1098.5L1906 1125.9L1878.6 1125.9Z"/><path d="M1896.4 1078.8L1923.8 1106.2L1896.4 1106.2Z"/><path d="M1916.4 1075L1943.8 1102.4L1916.4 1102.4Z"/><path d="M1932.7 1080.9L1960.1 1108.3L1932.7 1108.3Z"/></g><g fill="#6814D8"><rect x="645.9" y="1393.3" width="27.2" height="27.2"/><rect x="659.7" y="1396.2" width="27.2" height="27.2"/><rect x="676.5" y="1399.8" width="27.2" height="27.2"/><rect x="696.7" y="1398.6" width="27.2" height="27.2"/><rect x="721.1" y="1393.8" width="27.2" height="27.2"/><rect x="752.7" y="1404.6" width="27.2" height="27.2"/><rect x="757.2" y="1401.5" width="27.2" height="27.2"/><rect x="777.4" y="1403.9" width="27.2" height="27.2"/><rect x="798.8" y="1406.2" width="27.2" height="27.2"/><rect x="843.1" y="1401" width="27.2" height="27.2"/><rect x="888" y="1395" width="27.2" height="27.2"/><rect x="933.4" y="1397.4" width="27.2" height="27.2"/><rect x="954" y="1399.8" width="27.2" height="27.2"/><rect x="978.6" y="1406.3" width="27.2" height="27.2"/><rect x="1023.1" y="1406.3" width="27.2" height="27.2"/><rect x="1068.8" y="1372.6" width="27.2" height="27.2"/><rect x="1113.9" y="1340.7" width="27.2" height="27.2"/><rect x="1134.5" y="1406.7" width="27.2" height="27.2"/><rect x="1158.7" y="1418.7" width="27.2" height="27.2"/><rect x="1204.1" y="1422.3" width="27.2" height="27.2"/><rect x="1248.9" y="1406.9" width="27.2" height="27.2"/><rect x="1294.2" y="1375" width="27.2" height="27.2"/><rect x="1314.7" y="1354.1" width="27.2" height="27.2"/><rect x="1339.5" y="1341" width="27.2" height="27.2"/><rect x="1384.3" y="1342.6" width="27.2" height="27.2"/><rect x="1429.2" y="1336.7" width="27.2" height="27.2"/><rect x="1474.8" y="1341" width="27.2" height="27.2"/><rect x="1495.6" y="1327.8" width="27.2" height="27.2"/><rect x="1519.7" y="1323.7" width="27.2" height="27.2"/><rect x="1564.7" y="1343.7" width="27.2" height="27.2"/><rect x="1609.9" y="1331.4" width="27.2" height="27.2"/><rect x="1654.8" y="1302.2" width="27.2" height="27.2"/><rect x="1675.6" y="1287.8" width="27.2" height="27.2"/><rect x="1699.8" y="1264.7" width="27.2" height="27.2"/><rect x="1745.2" y="1271.5" width="27.2" height="27.2"/><rect x="1790.2" y="1240.2" width="27.2" height="27.2"/><rect x="1835.1" y="1212.6" width="27.2" height="27.2"/><rect x="1855.6" y="1195.6" width="27.2" height="27.2"/><rect x="1870.3" y="1197.3" width="27.2" height="27.2"/><rect x="1874.7" y="1195.7" width="27.2" height="27.2"/><rect x="1892.5" y="1178" width="27.2" height="27.2"/><rect x="1912.5" y="1179.1" width="27.2" height="27.2"/><rect x="1928.8" y="1185.1" width="27.2" height="27.2"/></g><rect x="431.3" y="61.4" width="462.5" height="579.8" fill="#fff" stroke="#000" stroke-width="4.1"/><line x1="462.7" y1="121.6" x2="624.4" y2="121.6" stroke="#DE0805" stroke-width="9.5"/><g fill="#DE0805"><circle cx="543.8" cy="121.6" r="13.2"/></g><line x1="462.7" y1="198.3" x2="624.4" y2="198.3" stroke="#000" stroke-width="9.2"/><g fill="#000"><path d="M543.8 184.5L557.6 198.3L543.8 212.1L530 198.3Z"/></g><rect x="530.9" y="262.1" width="25.7" height="25.7" fill="#fff" stroke="#0000D4" stroke-width="1.5"/><path d="M530.9 287.8L556.6 262.1L556.6 287.8Z" fill="#0000D4"/><g fill="#018310"><path d="M543.8 337.9L557.8 365.4L529.8 365.4Z"/></g><rect x="530.8" y="415.4" width="25.9" height="25.9" fill="#fff" stroke="#3a3a3a" stroke-width="1.3"/><rect x="530.2" y="414.7" width="27.2" height="13.6" fill="#000"/><g fill="#F26611"><path d="M534.1 491.3L561.5 518.7L534.1 518.7Z"/></g><g fill="#6814D8"><rect x="530.2" y="568.1" width="27.2" height="27.2"/></g><text x="637.5" y="145.2" font-size="64" fill="#DE0805" letter-spacing="-0.35">340 nm</text><text x="637.5" y="221.9" font-size="64" fill="#000" letter-spacing="-0.35">380 nm</text><text x="637.5" y="298.6" font-size="64" fill="#0000D4" letter-spacing="-0.35">440 nm</text><text x="637.5" y="375.2" font-size="64" fill="#018310" letter-spacing="-0.35">500 nm</text><text x="637.5" y="451.9" font-size="64" fill="#333333" letter-spacing="-0.35">675 nm</text><text x="637.5" y="528.6" font-size="64" fill="#F26611" letter-spacing="-0.35">870 nm</text><text x="637.5" y="605.3" font-size="64" fill="#6814D8" letter-spacing="-0.35">1020 nm</text><text x="361.8" y="66" font-size="65.3" text-anchor="end" letter-spacing="-1.4">0.15</text><text x="361.8" y="607.2" font-size="65.3" text-anchor="end" letter-spacing="-1.4">0.10</text><text x="361.8" y="1148.3" font-size="65.3" text-anchor="end" letter-spacing="-1.4">0.05</text><text x="361.8" y="1689.5" font-size="65.3" text-anchor="end" letter-spacing="-1.4">0.00</text><text x="365.7" y="1767.3" font-size="65.3" text-anchor="middle">22</text><text x="583" y="1767.3" font-size="65.3" text-anchor="middle">23</text><text x="782.4" y="1767.3" font-size="65.3" text-anchor="middle">0</text><text x="966.9" y="1767.3" font-size="65.3" text-anchor="middle">1</text><text x="1141.6" y="1767.3" font-size="65.3" text-anchor="middle">2</text><text x="1320" y="1767.3" font-size="65.3" text-anchor="middle">3</text><text x="1496.2" y="1767.3" font-size="65.3" text-anchor="middle">4</text><text x="1676.3" y="1767.3" font-size="65.3" text-anchor="middle">5</text><text x="1854.4" y="1767.3" font-size="65.3" text-anchor="middle">6</text><text x="2031.5" y="1767.3" font-size="65.3" text-anchor="middle">7</text><text x="1215.2" y="1933.9" font-size="82" text-anchor="middle">Time (UTC)</text><text transform="translate(80.3 878.7) rotate(-90)" x="0" y="0" font-size="82" text-anchor="middle" letter-spacing="-0.48">Spectral aerosol optical depth</text></svg></body></html>
